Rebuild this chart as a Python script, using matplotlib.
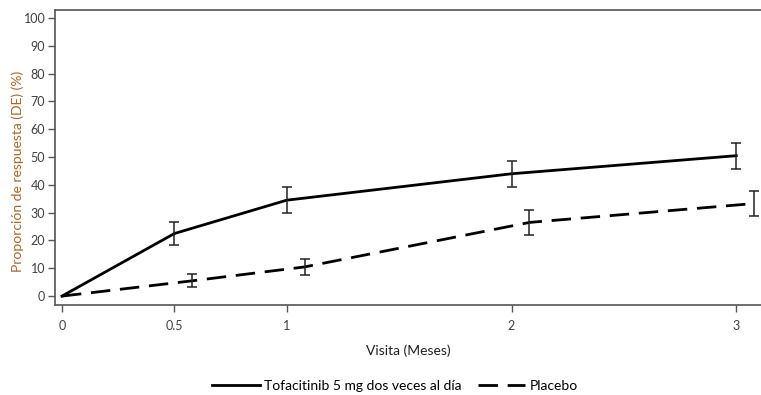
import matplotlib
matplotlib.use("Agg")
import matplotlib.pyplot as plt

# Datos
visitas_tofa = [0, 0.5, 1, 2, 3]
resp_tofa = [0, 22.5, 34.5, 44.0, 50.5]
de_tofa = [0, 4.0, 4.6, 4.6, 4.7]

visitas_placebo = [0, 0.58, 1.08, 2.08, 3.08]
resp_placebo = [0, 5.5, 10.5, 26.5, 33.3]
de_placebo = [0, 2.4, 3.0, 4.4, 4.6]

xticks = [0, 0.5, 1, 2, 3]
xtick_labels = ["0", "0.5", "1", "2", "3"]
yticks = list(range(0, 101, 10))

plt.rcParams["font.family"] = ["Lato", "DejaVu Sans"]

fig = plt.figure(figsize=(7.61, 3.95), dpi=100)
ax = fig.add_axes([55 / 761, 1 - 305 / 395, 706 / 761, 295 / 395])

ax.plot(visitas_tofa, resp_tofa, color="black", lw=2,
        label="Tofacitinib 5 mg dos veces al día")
ax.plot(visitas_placebo, resp_placebo, color="black", lw=2,
        dashes=(7, 3.5), label="Placebo")

ax.errorbar(visitas_tofa[1:], resp_tofa[1:], yerr=de_tofa[1:], fmt="none",
            ecolor="#222222", elinewidth=1.1, capsize=3.8, capthick=1.1)
ax.errorbar(visitas_placebo[1:], resp_placebo[1:], yerr=de_placebo[1:], fmt="none",
            ecolor="#222222", elinewidth=1.1, capsize=3.8, capthick=1.1)

ax.set_xlim(-0.031, 3.11)
ax.set_ylim(-3.2, 102.9)
ax.set_xticks(xticks)
ax.set_xticklabels(xtick_labels)
ax.set_yticks(yticks)

for s in ["left", "bottom", "top"]:
    ax.spines[s].set_color("#555555")
    ax.spines[s].set_linewidth(1.2)
ax.spines["right"].set_visible(False)

ax.tick_params(axis="both", direction="out", length=5, width=1,
               color="#555555", labelsize=9, labelcolor="#404040")
ax.tick_params(axis="x", pad=6)
ax.tick_params(axis="y", pad=2)

ax.set_xlabel("Visita (Meses)", fontsize=10, color="#222222", labelpad=9)
ax.set_ylabel("Proporción de respuesta (DE) (%)", fontsize=10,
              color="#b0651e", labelpad=0)
ax.yaxis.label.set_y(0.454)

fig.legend(loc="center", bbox_to_anchor=(395 / 761, 1 - 386 / 395), ncol=2,
           frameon=False, fontsize=10, handlelength=3.4, columnspacing=1.2,
           handletextpad=0.3)

fig.savefig("out.png", dpi=100)
